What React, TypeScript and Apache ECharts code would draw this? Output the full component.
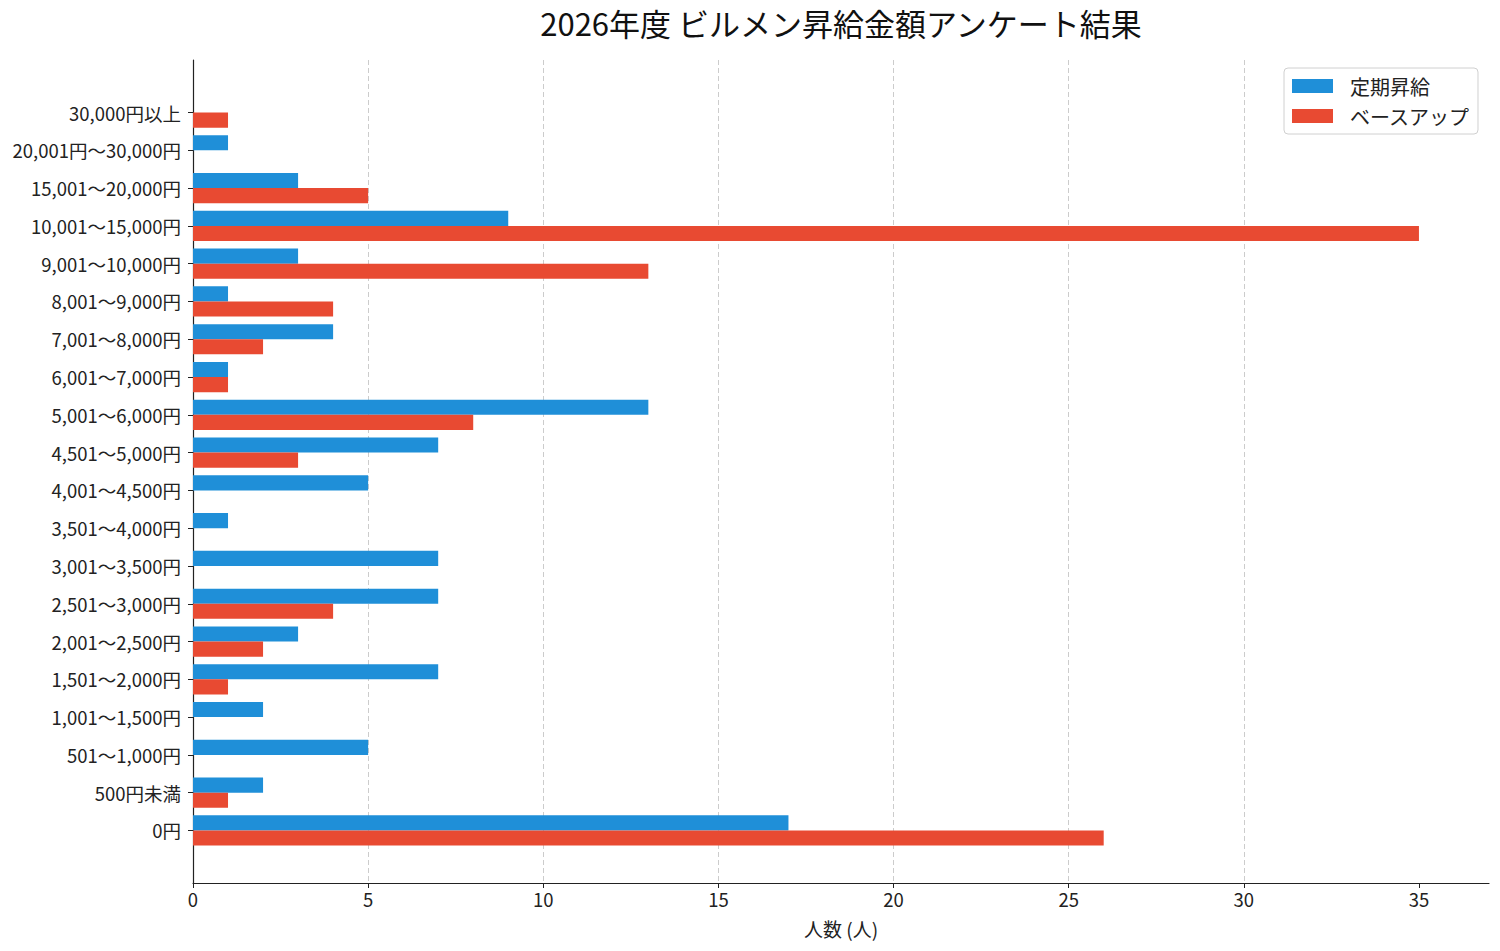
import React, { useEffect, useRef } from "react";
import * as echarts from "echarts";

const categories = [
  "0円",
  "500円未満",
  "501〜1,000円",
  "1,001〜1,500円",
  "1,501〜2,000円",
  "2,001〜2,500円",
  "2,501〜3,000円",
  "3,001〜3,500円",
  "3,501〜4,000円",
  "4,001〜4,500円",
  "4,501〜5,000円",
  "5,001〜6,000円",
  "6,001〜7,000円",
  "7,001〜8,000円",
  "8,001〜9,000円",
  "9,001〜10,000円",
  "10,001〜15,000円",
  "15,001〜20,000円",
  "20,001円〜30,000円",
  "30,000円以上",
];

const teikiShokyu = [17, 2, 5, 2, 7, 3, 7, 7, 1, 5, 7, 13, 1, 4, 1, 3, 9, 3, 1, 0];
const baseUp = [26, 1, 0, 0, 1, 2, 4, 0, 0, 0, 3, 8, 1, 2, 4, 13, 35, 5, 0, 1];

const xTicks = [0, 5, 10, 15, 20, 25, 30, 35];

const FONT = "'Noto Sans CJK JP', 'Noto Sans', sans-serif";
const BLUE = "#1f8fd8";
const RED = "#e84a32";
const BAR_H = 0.4;

function makeRender(color: string, upper: boolean) {
  return (params: any, api: any) => {
    const v = api.value(0);
    const i = api.value(1);
    const top = upper ? i + BAR_H : i;
    const bottom = upper ? i : i - BAR_H;
    const p0 = api.coord([0, top]);
    const p1 = api.coord([v, bottom]);
    return {
      type: "rect",
      shape: { x: p0[0], y: p0[1], width: p1[0] - p0[0], height: p1[1] - p0[1] },
      style: { fill: color },
    };
  };
}

export default function App() {
  const ref = useRef<HTMLDivElement>(null);
  useEffect(() => {
    if (!ref.current) return;
    const chart = echarts.init(ref.current, null, { renderer: "svg" });
    const idx = categories.map((_, i) => i);
    chart.setOption({
      animation: false,
      textStyle: { fontFamily: FONT },
      title: {
        text: "2026年度 ビルメン昇給金額アンケート結果",
        left: 836,
        top: 2,
        textAlign: "center",
        textStyle: { fontFamily: FONT, fontSize: 31, fontWeight: "normal", color: "#111" },
      },
      legend: {
        left: 1284,
        top: 68,
        orient: "vertical",
        itemWidth: 41,
        itemHeight: 14,
        itemGap: 10,
        padding: [8, 8, 8, 8],
        borderColor: "#d0d0d0",
        borderWidth: 1,
        borderRadius: 4,
        icon: "rect",
        textStyle: { fontFamily: FONT, fontSize: 20, color: "#222", padding: [0, 0, 0, 12] },
        data: [
          { name: "定期昇給", itemStyle: { color: BLUE } },
          { name: "ベースアップ", itemStyle: { color: RED } },
        ],
      },
      grid: { left: 193, right: 11, top: 60, bottom: 68, containLabel: false },
      xAxis: {
        type: "value",
        min: 0,
        max: 37,
        interval: 5,
        name: "人数 (人)",
        nameLocation: "middle",
        nameGap: 36,
        nameTextStyle: { fontFamily: FONT, fontSize: 19, color: "#222" },
        axisLine: { show: true, onZero: false, lineStyle: { color: "#222", width: 1.2 } },
        axisTick: { show: true, length: 5, lineStyle: { color: "#222" }, customValues: xTicks },
        axisLabel: { fontFamily: FONT, fontSize: 18.5, color: "#222", margin: 7, customValues: xTicks },
        splitLine: {
          show: true,
          showMinLine: false,
          showMaxLine: false,
          lineStyle: { type: [5, 3], color: "#cccccc", width: 1 },
        },
      },
      yAxis: {
        type: "value",
        min: -1.39,
        max: 20.39,
        axisLine: { show: true, onZero: false, lineStyle: { color: "#222", width: 1.2 } },
        axisTick: { show: true, length: 5, lineStyle: { color: "#222" }, customValues: idx },
        axisLabel: {
          fontFamily: FONT,
          fontSize: 18.5,
          color: "#222",
          margin: 12,
          customValues: idx,
          formatter: (v: number) => categories[Math.round(v)] ?? "",
        },
        splitLine: { show: false },
      },
      series: [
        {
          name: "定期昇給",
          type: "custom",
          itemStyle: { color: BLUE },
          encode: { x: 0, y: 1 },
          renderItem: makeRender(BLUE, true),
          data: teikiShokyu.map((v, i) => [v, i]),
        },
        {
          name: "ベースアップ",
          type: "custom",
          itemStyle: { color: RED },
          encode: { x: 0, y: 1 },
          renderItem: makeRender(RED, false),
          data: baseUp.map((v, i) => [v, i]),
        },
      ],
    });
    return () => chart.dispose();
  }, []);
  return <div ref={ref} style={{ width: 1500, height: 951, margin: -8 }} />;
}
